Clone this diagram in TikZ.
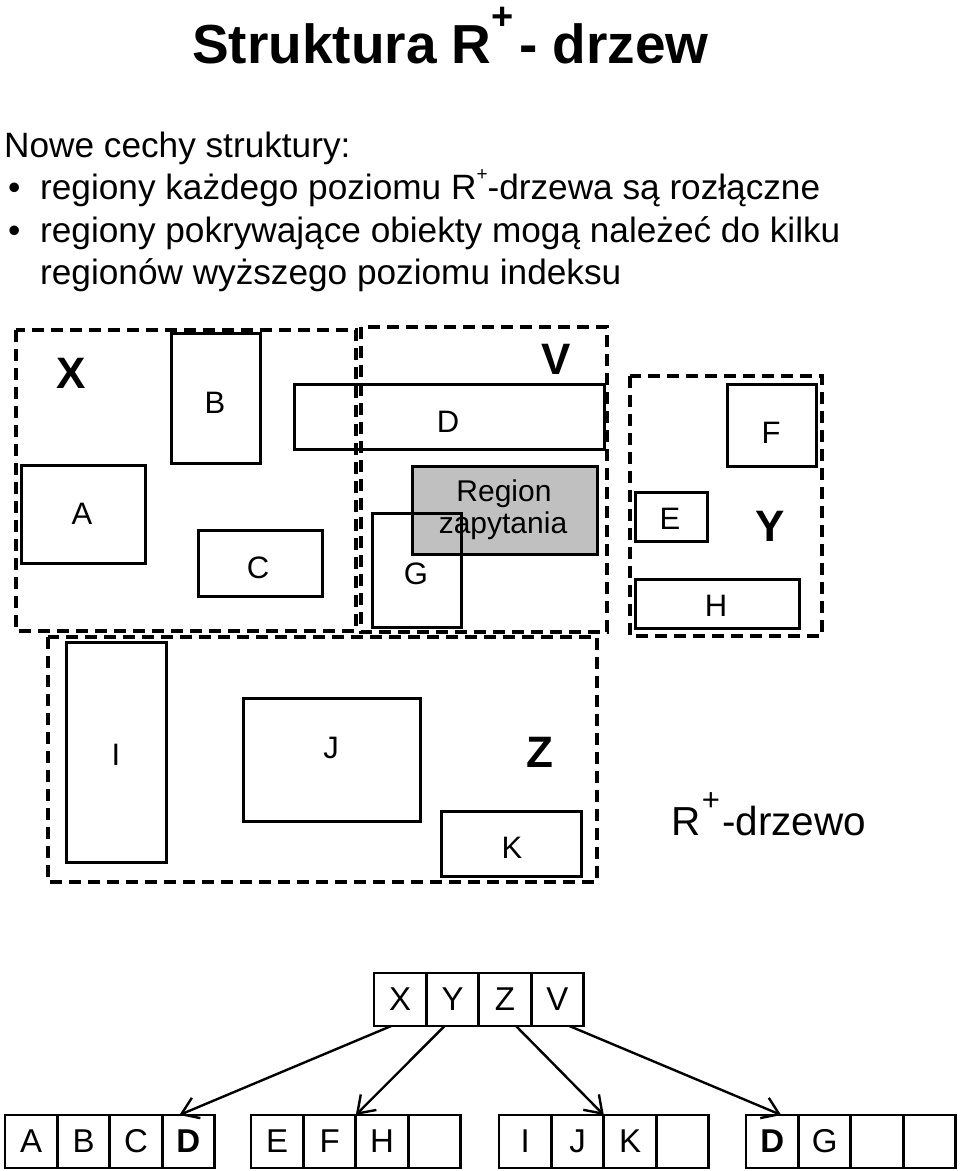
\documentclass[tikz,border=0pt]{standalone}
\usepackage{fontspec}
\setmainfont{Liberation Sans}
\usetikzlibrary{arrows.meta,calc}
\definecolor{qgray}{RGB}{192,192,192}
\begin{document}
\begin{tikzpicture}[x=1pt,y=-1pt,
  box/.style={draw, line width=3pt},
  regionbox/.style={draw, line width=3.2pt, dash pattern=on 12pt off 7pt},
  lbl/.style={font=\fontsize{31}{31}\selectfont, inner sep=0},
  biglbl/.style={font=\fontsize{44}{44}\selectfont\bfseries, inner sep=0},
  body/.style={font=\fontsize{35.2}{40}\selectfont, inner sep=0, anchor=base west},
  cell/.style={draw, line width=2.8pt, minimum width=52.4pt, minimum height=53pt, inner sep=0, outer sep=0, font=\fontsize{33}{33}\selectfont, anchor=north west},
  link/.style={line width=2.4pt, -{Straight Barb[length=16pt,width=22pt]}}
]
\useasboundingbox (0,0) rectangle (960,1171);
\fill[white] (0,0) rectangle (960,1171);

% title
\node[anchor=base west, inner sep=0, font=\fontsize{55}{55}\selectfont\bfseries] (title1) at (192,63) {Struktura R};
\node[inner sep=0, font=\fontsize{38}{38}\selectfont\bfseries] (tplus) at (503,18) {+};
\node[anchor=base west, inner sep=0, font=\fontsize{55}{55}\selectfont\bfseries] (title2) at (519,63) {- drzew};

% text
\node[body] (t1) at (4,157) {Nowe cechy struktury:};
\node[body] (bul1) at (8,199) {•};
\node[body] (t2) at (40,199) {regiony każdego poziomu R\raisebox{0.52em}{\fontsize{19}{19}\selectfont +}-drzewa są rozłączne};
\node[body] (bul2) at (8,242) {•};
\node[body] (t3) at (40,242) {regiony pokrywające obiekty mogą należeć do kilku};
\node[body] (t4) at (40,284) {regionów wyższego poziomu indeksu};

% regions
\draw[regionbox] (16,330) rectangle (356,631);
\draw[regionbox] (361,327) rectangle (607,632);
\draw[regionbox] (630,376) rectangle (822,636);
\draw[regionbox] (48,637) rectangle (597,882);

% objects X
\draw[box] (171,333) rectangle (260,463);
\draw[box] (21,465) rectangle (145,563);
\draw[box] (198,530) rectangle (322,596);
\draw[box] (294,384) rectangle (604,449);
\node[lbl] (lB) at (215,403) {B};
\node[lbl] (lA) at (82,514) {A};
\node[lbl] (lC) at (258,568) {C};
\node[lbl] (lD) at (448,422) {D};
\node[biglbl] (lX) at (71,373) {X};
\node[biglbl] (lV) at (556,359) {V};

% query region and G
\draw[box, fill=qgray] (412,466) rectangle (597,554);
\draw[box] (372,513) rectangle (461,627);
\node[lbl, font=\fontsize{30}{30}\selectfont, anchor=base] (lq1) at (504,501) {Region};
\node[lbl, font=\fontsize{30}{30}\selectfont, anchor=base] (lq2) at (503,533) {zapytania};
\node[lbl] (lG) at (416,574) {G};

% Y
\draw[box] (727,384) rectangle (816,466);
\draw[box] (635,492) rectangle (707,541);
\draw[box] (635,579) rectangle (799,628);
\node[lbl] (lF) at (771,433) {F};
\node[lbl] (lE) at (670,519) {E};
\node[lbl] (lH) at (716,606) {H};
\node[biglbl] (lY) at (770,526) {Y};

% Z
\draw[box] (66,642) rectangle (166,862);
\draw[box] (243,698) rectangle (420,821);
\draw[box] (441,811) rectangle (581,876);
\node[lbl] (lI) at (116,755) {I};
\node[lbl] (lJ) at (331,748) {J};
\node[lbl] (lK) at (512,848) {K};
\node[biglbl] (lZ) at (540,752) {Z};

% R+-drzewo
\node[anchor=base west, inner sep=0, font=\fontsize{40.5}{40}\selectfont] (rt1) at (671,835) {R};
\node[inner sep=0, font=\fontsize{31}{31}\selectfont] (rtplus) at (711,802) {+};
\node[anchor=base west, inner sep=0, font=\fontsize{40.5}{40}\selectfont] (rt2) at (722,835) {-drzewo};

% tree
\node[cell] (cX) at (374,973) {X};
\node[cell] (cY) at (426.4,973) {Y};
\node[cell] (cZ) at (478.8,973) {Z};
\node[cell] (cV) at (531.2,973) {V};

\node[cell] (cA1) at (5,1115) {A};
\node[cell] (cB1) at (57.4,1115) {B};
\node[cell] (cC1) at (109.8,1115) {C};
\node[cell] (cD1) at (162.2,1115) {\textbf{D}};

\node[cell] (cE2) at (251,1115) {E};
\node[cell] (cF2) at (303.4,1115) {F};
\node[cell] (cH2) at (355.8,1115) {H};
\node[cell] (cN2) at (408.2,1115) {};

\node[cell] (cI3) at (499,1115) {I};
\node[cell] (cJ3) at (551.4,1115) {J};
\node[cell] (cK3) at (603.8,1115) {K};
\node[cell] (cN3) at (656.2,1115) {};

\node[cell] (cD4) at (746,1115) {\textbf{D}};
\node[cell] (cG4) at (798.4,1115) {G};
\node[cell] (cN4a) at (850.8,1115) {};
\node[cell] (cN4b) at (903.2,1115) {};

\draw[link] ($(cX.south)+(-9,0)$) -- ($(cD1.north)+(-9,0)$);
\draw[link] ($(cY.south)+(-8,0)$) -- (cH2.north west);
\draw[link] ($(cZ.south)+(11,0)$) -- (cK3.north west);
\draw[link] ($(cV.south)+(12,0)$) -- ($(cD4.north)+(9,0)$);
\end{tikzpicture}
\end{document}
